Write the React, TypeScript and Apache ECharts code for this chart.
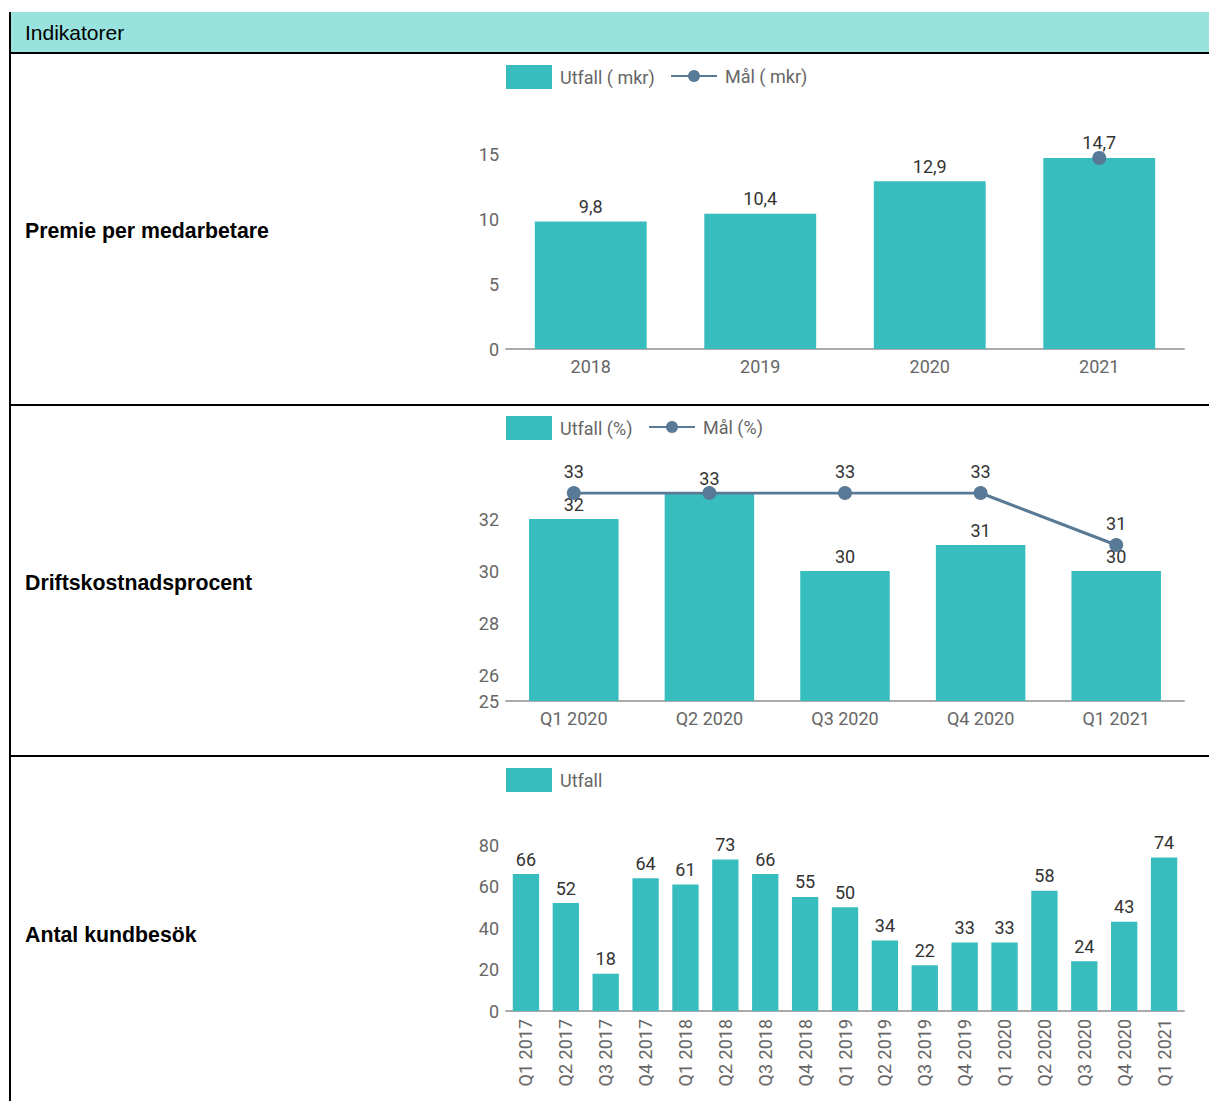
import React, { useEffect, useRef } from "react";
import * as echarts from "echarts";

const premieCategories = ["2018", "2019", "2020", "2021"];
const premieUtfall = [9.8, 10.4, 12.9, 14.7];
const premieMal: (number | string)[] = ["-", "-", "-", 14.7];
const premieTicks = { min: 0, max: 15, interval: 5 };

const driftCategories = ["Q1 2020", "Q2 2020", "Q3 2020", "Q4 2020", "Q1 2021"];
const driftUtfall = [32, 33, 30, 31, 30];
const driftMal = [33, 33, 33, 33, 31];
const driftTicks = { min: 25, max: 33, interval: 1 };
const driftShownLabels = [25, 26, 28, 30, 32];

const besokCategories = [
  "Q1 2017", "Q2 2017", "Q3 2017", "Q4 2017",
  "Q1 2018", "Q2 2018", "Q3 2018", "Q4 2018",
  "Q1 2019", "Q2 2019", "Q3 2019", "Q4 2019",
  "Q1 2020", "Q2 2020", "Q3 2020", "Q4 2020",
  "Q1 2021",
];
const besokUtfall = [66, 52, 18, 64, 61, 73, 66, 55, 50, 34, 22, 33, 33, 58, 24, 43, 74];
const besokTicks = { min: 0, max: 80, interval: 20 };

const BAR = "#37BDBD";
const LINE = "#587A96";
const FONT = "Roboto";
const FS = 18;

const fmt = (v: any) => String(v).replace(".", ",");

function Chart({ option, style }: { option: any; style: React.CSSProperties }) {
  const ref = useRef<HTMLDivElement>(null);
  useEffect(() => {
    if (!ref.current) return;
    const c = echarts.init(ref.current, undefined, { renderer: "svg" });
    c.setOption(option);
    return () => c.dispose();
  }, [option]);
  return <div ref={ref} style={style} />;
}

const legendText = { fontFamily: FONT, fontSize: FS, color: "#666", padding: [0, 0, 0, 3] };

function barLegend(top: number, name: string) {
  return {
    left: 46,
    top,
    padding: 0,
    itemWidth: 46,
    itemHeight: 24,
    icon: "rect",
    data: [name],
    textStyle: legendText,
  };
}

function lineLegend(top: number, left: number, name: string) {
  return {
    left,
    top: top + 2,
    padding: 0,
    itemWidth: 46,
    itemHeight: 15,
    data: [name],
    textStyle: legendText,
  };
}

function xAxisCfg(data: string[], rotate = 0) {
  return {
    type: "category",
    data,
    axisTick: { show: false },
    axisLine: { lineStyle: { color: "#aaa", width: 2 } },
    axisLabel: {
      fontFamily: FONT,
      fontSize: FS,
      color: "#666",
      margin: 8,
      rotate,
      interval: 0,
    },
  };
}

function yAxisCfg(t: { min: number; max: number; interval: number }, formatter?: any) {
  return {
    type: "value",
    min: t.min,
    max: t.max,
    interval: t.interval,
    splitLine: { show: false },
    axisLine: { show: false },
    axisTick: { show: false },
    axisLabel: {
      fontFamily: FONT,
      fontSize: FS,
      color: "#666",
      margin: 7,
      formatter: formatter,
    },
  };
}

function barSeries(name: string, data: number[]) {
  return {
    name,
    type: "bar",
    data,
    barCategoryGap: "34%",
    itemStyle: { color: BAR },
    label: {
      show: true,
      position: "top",
      distance: 6,
      fontFamily: FONT,
      fontSize: FS,
      color: "#333",
      formatter: (p: any) => fmt(p.value),
    },
    labelLayout: { hideOverlap: true },
  };
}

function lineSeries(name: string, data: (number | string)[]) {
  return {
    name,
    type: "line",
    data,
    symbol: "circle",
    symbolSize: 14,
    itemStyle: { color: LINE },
    lineStyle: { color: LINE, width: 3 },
    z: 3,
    label: {
      show: true,
      position: "top",
      distance: 6,
      fontFamily: FONT,
      fontSize: FS,
      color: "#333",
      formatter: (p: any) => fmt(p.value),
    },
    labelLayout: { hideOverlap: true },
  };
}

const premieOption = {
  animation: false,
  legend: [barLegend(11, "Utfall ( mkr)"), lineLegend(11, 210, "Mål ( mkr)")],
  grid: { left: 46, right: 25, top: 100, bottom: 55, containLabel: false },
  xAxis: xAxisCfg(premieCategories),
  yAxis: yAxisCfg(premieTicks),
  series: [barSeries("Utfall ( mkr)", premieUtfall), lineSeries("Mål ( mkr)", premieMal)],
};

const driftOption = {
  animation: false,
  legend: [barLegend(10, "Utfall (%)"), lineLegend(10, 188, "Mål (%)")],
  grid: { left: 46, right: 25, top: 87, bottom: 54, containLabel: false },
  xAxis: xAxisCfg(driftCategories),
  yAxis: yAxisCfg(driftTicks, (v: number) => (driftShownLabels.indexOf(v) >= 0 ? String(v) : "")),
  series: [barSeries("Utfall (%)", driftUtfall), lineSeries("Mål (%)", driftMal)],
};

const besokOption = {
  animation: false,
  legend: [barLegend(11, "Utfall")],
  grid: { left: 46, right: 25, top: 88, bottom: 90, containLabel: false },
  xAxis: xAxisCfg(besokCategories, 90),
  yAxis: yAxisCfg(besokTicks),
  series: [barSeries("Utfall", besokUtfall)],
};

const labelStyle: React.CSSProperties = {
  position: "absolute",
  left: 25,
  fontFamily: "'Liberation Sans', Arial, sans-serif",
  fontWeight: "bold",
  fontSize: 21.3,
  lineHeight: "24px",
  color: "#000",
  whiteSpace: "nowrap",
};

const hLine = (top: number): React.CSSProperties => ({
  position: "absolute",
  left: 10,
  top,
  width: 1199,
  height: 2,
  background: "#000",
  zIndex: 5,
});

export default function App() {
  return (
    <div
      style={{
        position: "absolute",
        left: 0,
        top: 0,
        width: 1209,
        height: 1101,
        background: "#fff",
        overflow: "hidden",
      }}
    >
      <div
        style={{
          position: "absolute",
          left: 11,
          top: 12,
          width: 1198,
          height: 41,
          background: "#98E3DE",
        }}
      >
        <div
          style={{
            position: "absolute",
            left: 14,
            top: 9,
            fontFamily: "'Liberation Sans', Arial, sans-serif",
            fontSize: 21,
            lineHeight: "24px",
            color: "#000",
          }}
        >
          Indikatorer
        </div>
      </div>
      <div style={{ position: "absolute", left: 9, top: 12, width: 2, height: 1089, background: "#000", zIndex: 5 }} />
      <div style={hLine(52)} />
      <div style={hLine(404)} />
      <div style={hLine(755)} />

      <div style={{ ...labelStyle, top: 219 }}>Premie per medarbetare</div>
      <div style={{ ...labelStyle, top: 571 }}>Driftskostnadsprocent</div>
      <div style={{ ...labelStyle, top: 923 }}>Antal kundbesök</div>

      <Chart option={premieOption} style={{ position: "absolute", left: 460, top: 54, width: 749, height: 350 }} />
      <Chart option={driftOption} style={{ position: "absolute", left: 460, top: 406, width: 749, height: 349 }} />
      <Chart option={besokOption} style={{ position: "absolute", left: 460, top: 757, width: 749, height: 344 }} />
    </div>
  );
}
